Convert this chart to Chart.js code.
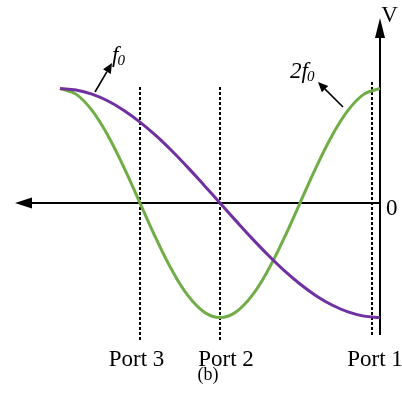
<!DOCTYPE html>
<html><head><meta charset="utf-8">
<script src="https://cdn.jsdelivr.net/npm/chart.js@4.4.1/dist/chart.umd.min.js"></script>
<style>html,body{margin:0;padding:0;background:#fff}#w{width:402px;height:402px;position:relative}</style>
</head><body><div id="w"><canvas id="c"></canvas></div>
<script>
// distance from Port 1 end (increasing to the left)
const positions = [0,0.5,1,1.5,2,2.5,3,3.5,4,4.5,5,5.5,6,6.5,7,7.5,8,8.5,9,9.5,10];
const f0Values = [-1,-0.988,-0.951,-0.891,-0.809,-0.707,-0.588,-0.454,-0.309,-0.156,0,0.156,0.309,0.454,0.588,0.707,0.809,0.891,0.951,0.988,1];
const f2Values = [1,0.951,0.809,0.588,0.309,0,-0.309,-0.588,-0.809,-0.951,-1,-0.951,-0.809,-0.588,-0.309,0,0.309,0.588,0.809,0.951,1];
const portNames = ['Port 1','Port 2','Port 3'];
const portX = [0.25, 5.0, 7.5];
const portTop = [1.074, 1.03, 1.03];
const portBottom = [-1.153, -1.197, -1.197];
const axisXMax = 11.406;
const axisYMin = -1.153;
const axisYMax = 1.616;

const serif = '"Liberation Serif","DejaVu Serif",serif';

const datasets = [
  {data: positions.map((x,i)=>({x, y:f0Values[i]})), borderColor:'#7030A0', borderWidth:3, pointRadius:0, tension:0.4, fill:false},
  {data: positions.map((x,i)=>({x, y:f2Values[i]})), borderColor:'#70AD47', borderWidth:3, pointRadius:0, tension:0.4, fill:false}
];
portX.forEach((px,i)=>{
  datasets.push({data:[{x:px,y:portBottom[i]},{x:px,y:portTop[i]}], borderColor:'#000', borderWidth:2, borderDash:[3,2], pointRadius:0, fill:false, clip:false, order:5});
});

function arrow(ctx, x1,y1,x2,y2, len, half){
  const a = Math.atan2(y2-y1, x2-x1);
  const bx = x2 - len*Math.cos(a), by = y2 - len*Math.sin(a);
  ctx.beginPath(); ctx.moveTo(x1,y1); ctx.lineTo(bx,by); ctx.stroke();
  ctx.beginPath();
  ctx.moveTo(x2,y2);
  ctx.lineTo(bx + half*Math.sin(a), by - half*Math.cos(a));
  ctx.lineTo(bx - half*Math.sin(a), by + half*Math.cos(a));
  ctx.closePath(); ctx.fill();
}

function subLabel(ctx, main, x, y){
  ctx.textAlign = 'left';
  ctx.font = 'italic 23px ' + serif;
  ctx.fillText(main, x, y);
  const w = ctx.measureText(main).width;
  ctx.font = 'italic 15px ' + serif;
  ctx.fillText('0', x + w - 1, y + 3);
}

const deco = {
  id:'deco',
  beforeDatasetsDraw(chart){
    const ctx = chart.ctx, xs = chart.scales.x, ys = chart.scales.y;
    const x0 = xs.getPixelForValue(0), y0 = ys.getPixelForValue(0);
    ctx.save();
    ctx.strokeStyle = '#000'; ctx.fillStyle = '#000'; ctx.lineWidth = 2;
    arrow(ctx, x0, y0, xs.getPixelForValue(axisXMax), y0, 17, 5.5);
    arrow(ctx, x0, ys.getPixelForValue(axisYMin), x0, ys.getPixelForValue(axisYMax), 20, 5);
    ctx.restore();
  },
  afterDatasetsDraw(chart){
    const ctx = chart.ctx, xs = chart.scales.x;
    ctx.save();
    ctx.fillStyle = '#000'; ctx.strokeStyle = '#000';
    ctx.textBaseline = 'alphabetic';
    ctx.font = '23px ' + serif;
    ctx.textAlign = 'center';
    ctx.fillText('V', 389.5, 22);
    ctx.textAlign = 'left';
    ctx.fillText('0', 386, 215);
    const off = [3, 6, -3.5];
    ctx.textAlign = 'center';
    portNames.forEach((n,i)=>{ ctx.fillText(n, xs.getPixelForValue(portX[i]) + off[i], 366); });
    ctx.font = '18px ' + serif;
    ctx.fillText('(b)', 208, 380);
    subLabel(ctx, 'f', 112, 62);
    subLabel(ctx, '2f', 290, 78);
    ctx.lineWidth = 1.6;
    arrow(ctx, 95, 92, 112, 63, 10, 4.5);
    arrow(ctx, 343, 107, 318, 82, 10, 4.5);
    ctx.restore();
  }
};

new Chart(document.getElementById('c'), {
  type:'line',
  data:{datasets},
  options:{
    responsive:true, maintainAspectRatio:false, animation:false,
    layout:{padding:{left:15, right:22, top:18, bottom:60}},
    plugins:{legend:{display:false}, tooltip:{enabled:false}},
    scales:{
      x:{type:'linear', reverse:true, min:0, max:axisXMax, display:false},
      y:{type:'linear', min:-1.214, max:axisYMax, display:false}
    }
  },
  plugins:[deco]
});
</script>
</body></html>
